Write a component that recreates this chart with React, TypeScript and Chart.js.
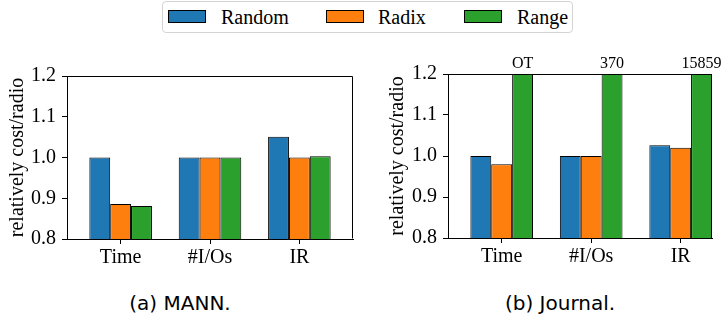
import React, { useEffect, useRef } from "react";
import { Chart, registerables } from "chart.js";

Chart.register(...registerables);

// ---- data ----
const categories = ["Time", "#I/Os", "IR"];
const seriesNames = ["Random", "Radix", "Range"];
const seriesColors = ["#1f77b4", "#ff7f0e", "#2ca02c"];

const mannRandom = [1.0, 1.0, 1.051];
const mannRadix = [0.886, 1.0, 1.0];
const mannRange = [0.881, 1.0, 1.003];

const journalRandom = [1.0, 1.0, 1.026];
const journalRadix = [0.98, 1.0, 1.02];
// "OT" (out of time) is drawn capped at the top of the axis
const journalRange = [1.2, 370, 15859];
const journalRangeLabels = ["OT", "370", "15859"];

const yTicks = [0.8, 0.9, 1.0, 1.1, 1.2];
const yTitle = "relatively cost/radio";

const SERIF = "'Liberation Serif', 'Times New Roman', serif";
const SANS = "'DejaVu Sans', sans-serif";

type Panel = {
  series: number[][];
  topLabels?: string[];
  xMin: number;
  xMax: number;
  pad: { top: number; right: number; bottom: number; left: number };
  yWidth: number;
  xHeight: number;
  titlePad: number;
};

const frameAndLabels = {
  id: "frameAndLabels",
  afterDatasetsDraw(chart: any, _args: any, opts: any) {
    const { ctx, chartArea } = chart;
    const l = Math.round(chartArea.left) + 0.5;
    const r = Math.round(chartArea.right) - 0.5;
    const t = Math.round(chartArea.top) + 0.5;
    const b = Math.round(chartArea.bottom) - 0.5;
    ctx.save();
    ctx.strokeStyle = "#000";
    ctx.lineWidth = 1;
    ctx.beginPath();
    ctx.moveTo(l, t);
    ctx.lineTo(r, t);
    ctx.lineTo(r, b);
    ctx.stroke();
    const labels: string[] | undefined = opts && opts.labels;
    if (labels) {
      const meta = chart.getDatasetMeta(2);
      ctx.fillStyle = "#000";
      ctx.font = `16px ${SERIF}`;
      ctx.textAlign = "center";
      ctx.textBaseline = "alphabetic";
      meta.data.forEach((el: any, i: number) => {
        if (labels[i]) ctx.fillText(labels[i], el.x, chartArea.top - 6);
      });
    }
    ctx.restore();
  },
};

function makeConfig(p: Panel): any {
  return {
    type: "bar",
    data: {
      datasets: p.series.map((vals, s) => ({
        label: seriesNames[s],
        data: vals.map((v, i) => ({ x: i, y: v })),
        backgroundColor: seriesColors[s],
        borderColor: "#000",
        borderWidth: 1,
        borderSkipped: false,
        categoryPercentage: 0.7,
        barPercentage: 1.0,
      })),
    },
    options: {
      animation: false,
      responsive: false,
      devicePixelRatio: 1,
      layout: { padding: p.pad },
      plugins: {
        legend: { display: false },
        tooltip: { enabled: false },
        frameAndLabels: { labels: p.topLabels },
      },
      scales: {
        x: {
          type: "linear",
          min: p.xMin,
          max: p.xMax,
          offset: false,
          afterBuildTicks: (scale: any) => {
            scale.ticks = categories.map((_, i) => ({ value: i }));
          },
          afterFit: (scale: any) => {
            scale.height = p.xHeight;
          },
          ticks: {
            autoSkip: false,
            maxRotation: 0,
            padding: 2,
            color: "#000",
            font: { family: SERIF, size: 20 },
            callback: (v: any) => categories[Number(v)] ?? "",
          },
          grid: {
            display: true,
            offset: false,
            drawOnChartArea: false,
            drawTicks: true,
            tickLength: 5,
            color: "#000",
            lineWidth: 1,
          },
          border: { display: true, color: "#000", width: 1 },
        },
        y: {
          min: yTicks[0],
          max: yTicks[yTicks.length - 1],
          afterBuildTicks: (scale: any) => {
            scale.ticks = yTicks.map((v) => ({ value: v }));
          },
          afterFit: (scale: any) => {
            scale.width = p.yWidth;
          },
          ticks: {
            padding: 6,
            color: "#000",
            font: { family: SERIF, size: 20 },
            callback: (v: any) => Number(v).toFixed(1),
          },
          grid: {
            display: true,
            drawOnChartArea: false,
            drawTicks: true,
            tickLength: 5,
            color: "#000",
            lineWidth: 1,
          },
          border: { display: true, color: "#000", width: 1 },
          title: {
            display: true,
            text: yTitle,
            color: "#000",
            font: { family: SERIF, size: 20 },
            padding: { top: p.titlePad, bottom: 0 },
          },
        },
      },
    },
    plugins: [frameAndLabels],
  };
}

function BarPanel({ panel, left, top, width, height }: { panel: Panel; left: number; top: number; width: number; height: number }) {
  const ref = useRef<HTMLCanvasElement | null>(null);
  useEffect(() => {
    if (!ref.current) return;
    const chart = new Chart(ref.current, makeConfig(panel));
    return () => chart.destroy();
  }, [panel]);
  return (
    <canvas
      ref={ref}
      width={width}
      height={height}
      style={{ position: "absolute", left, top, width, height }}
    />
  );
}

const mannPanel: Panel = {
  series: [mannRandom, mannRadix, mannRange],
  xMin: -0.6,
  xMax: 2.6,
  pad: { top: 36, right: 11, bottom: 0, left: 0 },
  yWidth: 67,
  xHeight: 51,
  titlePad: 6,
};

const journalPanel: Panel = {
  series: [journalRandom, journalRadix, journalRange],
  topLabels: journalRangeLabels,
  xMin: -0.6,
  xMax: 2.35,
  pad: { top: 34, right: 16, bottom: 0, left: 0 },
  yWidth: 84,
  xHeight: 52,
  titlePad: 22,
};

const legendSwatchX = [168, 326, 464];
const legendTextX = [221, 378, 517];

export default function App() {
  return (
    <div style={{ position: "absolute", left: 0, top: 0, width: 728, height: 321, background: "#fff", overflow: "hidden" }}>
      {/* legend */}
      <div
        style={{
          position: "absolute",
          left: 162,
          top: 1,
          width: 409,
          height: 30,
          border: "1px solid #d4d4d4",
          borderRadius: 4,
        }}
      />
      {seriesNames.map((name, i) => (
        <React.Fragment key={name}>
          <div
            style={{
              position: "absolute",
              left: legendSwatchX[i],
              top: 10,
              width: 36,
              height: 11,
              background: seriesColors[i],
              border: "1px solid #000",
            }}
          />
          <div
            style={{
              position: "absolute",
              left: legendTextX[i],
              top: 4,
              height: 26,
              lineHeight: "26px",
              fontFamily: SERIF,
              fontSize: 20,
              color: "#000",
              whiteSpace: "nowrap",
            }}
          >
            {name}
          </div>
        </React.Fragment>
      ))}

      <BarPanel panel={mannPanel} left={0} top={40} width={364} height={250} />
      <BarPanel panel={journalPanel} left={364} top={40} width={364} height={250} />

      <div style={{ position: "absolute", left: 80, width: 200, top: 290, textAlign: "center", fontFamily: SANS, fontSize: 20, lineHeight: "26px", color: "#000" }}>
        (a) MANN.
      </div>
      <div style={{ position: "absolute", left: 460, width: 200, top: 290, textAlign: "center", fontFamily: SANS, fontSize: 20, lineHeight: "26px", color: "#000" }}>
        (b) Journal.
      </div>
    </div>
  );
}
